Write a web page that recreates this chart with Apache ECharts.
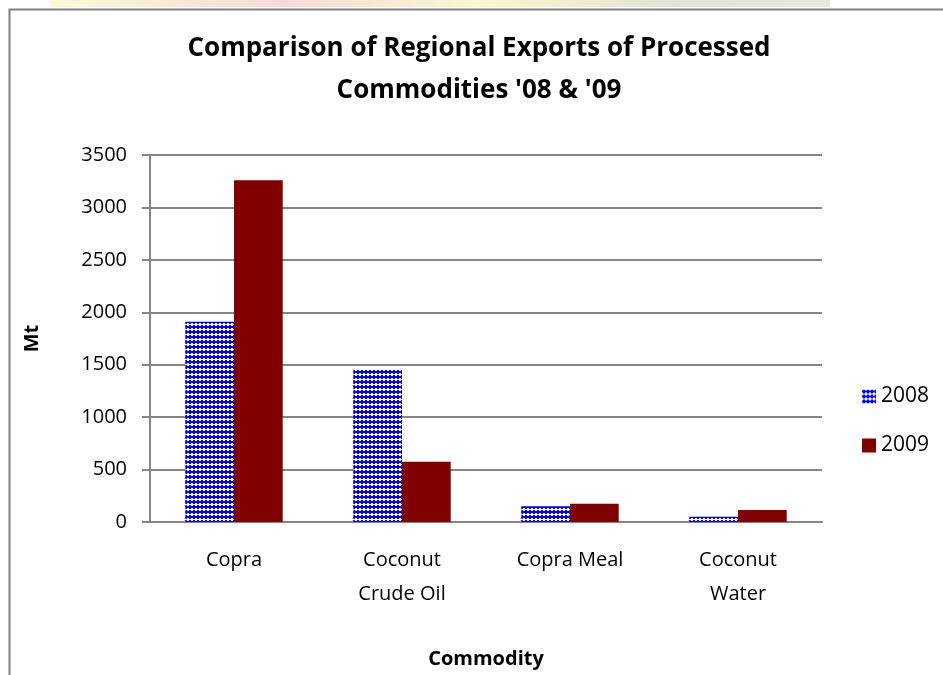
<!DOCTYPE html>
<html>
<head>
<meta charset="utf-8">
<title>Regional Exports of Processed Commodities</title>
<script src="https://cdn.jsdelivr.net/npm/echarts@6.0.0/dist/echarts.min.js"></script>
<style>
  html, body { margin: 0; padding: 0; background: #fff; }
  #chart { width: 943px; height: 675px; }
</style>
</head>
<body>
<div id="chart"></div>
<script>
// --- Data ---
const categories = ['Copra', 'Coconut\nCrude Oil', 'Copra Meal', 'Coconut\nWater'];
const values2008 = [1910, 1450, 150, 50];
const values2009 = [3260, 575, 175, 115];
const yTicks = { min: 0, max: 3500, interval: 500 };

// small tiled canvas for the dotted blue fill of 2008
const makeDotPattern = () => {
    const c = document.createElement('canvas');
    c.width = 4;
    c.height = 5;
    const ctx = c.getContext('2d');
    ctx.fillStyle = '#ffffff';
    ctx.fillRect(0, 0, 4, 5);
    ctx.fillStyle = '#0000ff';
    ctx.fillRect(1, 0, 2, 4);
    ctx.fillRect(0, 1, 4, 2);
    return c;
};

const FONT = 'Open Sans';
const chart = echarts.init(document.getElementById('chart'));

chart.setOption({
    backgroundColor: '#ffffff',
    animation: false,
    graphic: [
        // faint leftover background strip above the frame
        {
            type: 'rect', left: 50, top: 0, silent: true,
            shape: { width: 780, height: 7 },
            style: {
                fill: new echarts.graphic.LinearGradient(0, 0, 1, 0, [
                    { offset: 0, color: '#fdf9d8' },
                    { offset: 0.3, color: '#f3dcd8' },
                    { offset: 0.55, color: '#fbf7d0' },
                    { offset: 0.8, color: '#e2e2d6' },
                    { offset: 1, color: '#e8e8e0' }
                ])
            }
        },
        // chart frame (top and left edges visible)
        {
            type: 'rect', left: 7, top: 7, silent: true,
            shape: { width: 960, height: 700 },
            style: { fill: 'none', stroke: '#808080', lineWidth: 2 }
        }
    ],
    title: {
        text: "Comparison of Regional Exports of Processed\nCommodities '08 & '09",
        left: 474,
        textAlign: 'center',
        top: 23,
        textStyle: {
            fontFamily: FONT,
            fontSize: 26,
            fontWeight: 'bold',
            color: '#000',
            lineHeight: 42
        }
    },
    legend: {
        orient: 'vertical',
        left: 857,
        top: 381,
        icon: 'rect',
        itemWidth: 14,
        itemHeight: 14,
        itemGap: 28,
        textStyle: { fontFamily: FONT, fontSize: 21, color: '#000' },
        data: ['2008', '2009']
    },
    grid: { left: 150, right: 121, top: 155, bottom: 153, outerBoundsMode: 'none' },
    xAxis: {
        type: 'category',
        data: categories,
        name: 'Commodity',
        nameLocation: 'middle',
        nameGap: 127,
        nameTextStyle: { fontFamily: FONT, fontSize: 20, fontWeight: 'bold', color: '#000' },
        axisLine: { lineStyle: { color: '#868686', width: 2 } },
        axisTick: { show: false },
        axisLabel: {
            fontFamily: FONT, fontSize: 20, color: '#000',
            lineHeight: 34, margin: 21, interval: 0
        }
    },
    yAxis: {
        type: 'value',
        min: yTicks.min,
        max: yTicks.max,
        interval: yTicks.interval,
        name: 'Mt',
        nameLocation: 'middle',
        nameGap: 108,
        nameTextStyle: { fontFamily: FONT, fontSize: 20, fontWeight: 'bold', color: '#000' },
        axisLine: { show: true, lineStyle: { color: '#868686', width: 2 } },
        axisTick: { show: true, length: 8, lineStyle: { color: '#868686', width: 2 } },
        axisLabel: {
            fontFamily: FONT, fontSize: 20, color: '#000', margin: 23,
            formatter: (v) => String(v)
        },
        splitLine: { lineStyle: { color: '#868686', width: 2 } }
    },
    series: [
        {
            name: '2008',
            type: 'bar',
            data: values2008,
            barGap: '0%',
            barCategoryGap: '42%',
            itemStyle: { color: { image: makeDotPattern(), repeat: 'repeat' } }
        },
        {
            name: '2009',
            type: 'bar',
            data: values2009,
            itemStyle: { color: '#800000' }
        }
    ]
});
</script>
</body>
</html>
